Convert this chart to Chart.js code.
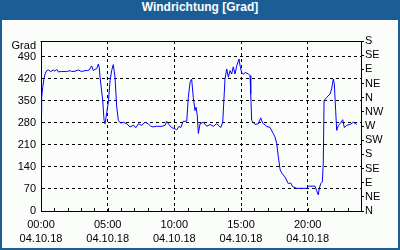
<!DOCTYPE html>
<html>
<head>
<meta charset="utf-8">
<script src="https://cdn.jsdelivr.net/npm/chart.js@4/dist/chart.umd.min.js"></script>
<style>
  html, body { margin: 0; padding: 0; background: #1b5e95; }
  #frame { position: relative; width: 400px; height: 250px; background: #1b5e95; overflow: hidden; }
  #title { position: absolute; left: 0; top: 0; width: 400px; height: 20px; line-height: 20px;
           text-align: center; color: #ffffff; font: bold 12px "Liberation Sans", Arial, sans-serif; }
  #panel { position: absolute; left: 2px; top: 20px; width: 396px; height: 228px; background: #fbfdfb; }
  canvas { display: block; }
</style>
</head>
<body>
<div id="frame">
  <div id="title">Windrichtung [Grad]</div>
  <div id="panel"><canvas id="c" width="396" height="228"></canvas></div>
</div>
<script>
// ---- data (hours since 00:00 on 04.10.18, wind direction in degrees) ----
const hours = [
  0.00, 0.05, 0.13, 0.22, 0.30, 0.43, 0.55, 0.73, 0.92, 1.05, 1.18, 1.30, 1.55, 1.93, 2.18, 2.30,
  2.55, 2.80, 3.05, 3.30, 3.47, 3.62, 3.80, 3.92, 4.05, 4.18, 4.30, 4.37, 4.43, 4.63, 4.73, 4.80,
  4.88, 5.05, 5.18, 5.30, 5.42, 5.55, 5.68, 5.80, 5.98, 6.17, 6.43, 6.68, 6.92, 7.13, 7.30, 7.55,
  7.80, 8.05, 8.23, 8.42, 8.68, 9.05, 9.30, 9.43, 9.55, 9.80, 10.05, 10.18, 10.35, 10.48, 10.67, 10.93,
  11.05, 11.18, 11.30, 11.42, 11.55, 11.63, 11.72, 11.80, 11.93, 12.17, 12.43, 12.68, 12.92, 13.18, 13.48, 13.63,
  13.80, 13.93, 14.05, 14.18, 14.30, 14.42, 14.55, 14.68, 14.85, 14.93, 15.05, 15.17, 15.35, 15.55, 15.68, 15.73,
  15.80, 16.05, 16.30, 16.48, 16.63, 16.93, 17.18, 17.42, 17.55, 17.68, 17.80, 17.93, 18.05, 18.30, 18.55, 18.73,
  18.88, 19.18, 19.93, 20.05, 20.55, 20.68, 20.80, 20.87, 20.98, 21.10, 21.17, 21.23, 21.43, 21.68, 21.80, 21.92,
  22.00, 22.10, 22.18, 22.30, 22.43, 22.63, 22.75, 22.93, 23.18, 23.43, 23.68
];
const directions = [
  310, 361, 393, 419, 435, 446, 448, 443, 448, 444, 450, 442, 443, 443, 446, 443,
  444, 448, 443, 446, 446, 448, 461, 446, 450, 452, 467, 456, 425, 351, 288, 277,
  298, 346, 414, 446, 465, 425, 330, 288, 279, 282, 277, 267, 272, 265, 277, 272,
  282, 277, 269, 267, 269, 269, 272, 285, 277, 265, 261, 258, 269, 265, 285, 285,
  361, 409, 419, 361, 319, 330, 304, 246, 277, 282, 269, 275, 269, 277, 265, 282,
  419, 451, 425, 446, 435, 458, 435, 461, 483, 461, 440, 435, 440, 435, 430, 372,
  288, 275, 277, 296, 279, 269, 265, 246, 235, 214, 172, 132, 121, 108, 87, 89,
  77, 72, 72, 79, 79, 64, 51, 72, 87, 93, 151, 351, 361, 372, 388, 419,
  404, 319, 256, 272, 277, 290, 265, 272, 275, 282, 275
];

// ---- axes / tick labels ----
const xTickHours = [0, 5, 10, 15, 20];
const xTickTimes = ['00:00', '05:00', '10:00', '15:00', '20:00'];
const xTickDate = '04.10.18';
const xMinorHours = [1,2,3,4,5,6,7,8,9,10,11,12,13,14,15,16,17,18,19,20,21,22,23];
const yTicks = [0, 70, 140, 210, 280, 350, 420, 490];
const yUnit = 'Grad';
const compassValues = [0, 45, 90, 135, 180, 225, 270, 315, 360, 405, 450, 495, 540];
const compassLabels = ['N', 'NE', 'E', 'SE', 'S', 'SW', 'W', 'NW', 'N', 'NE', 'E', 'SE', 'S'];

const FONT = { family: '"Liberation Sans", Arial, sans-serif', size: 11 };

const extras = {
  id: 'extras',
  afterDraw(chart) {
    const ctx = chart.ctx, a = chart.chartArea, xs = chart.scales.x;
    ctx.save();
    ctx.strokeStyle = '#000';
    ctx.lineWidth = 1;
    ctx.setLineDash([]);
    // top border line of the plot frame
    ctx.beginPath();
    ctx.moveTo(Math.round(a.left) - 0.5, Math.round(a.top) + 0.5);
    ctx.lineTo(Math.round(a.right) + 0.5, Math.round(a.top) + 0.5);
    ctx.stroke();
    // hourly minor ticks pointing into the plot
    ctx.beginPath();
    xMinorHours.forEach(h => {
      const px = Math.round(xs.getPixelForValue(h)) + 0.5;
      ctx.moveTo(px, a.bottom);
      ctx.lineTo(px, a.bottom - 3);
    });
    ctx.stroke();
    // unit label above the left tick labels
    ctx.fillStyle = '#000';
    ctx.font = FONT.size + 'px ' + FONT.family;
    ctx.textAlign = 'right';
    ctx.textBaseline = 'middle';
    ctx.fillText(yUnit, a.left - 5, a.top + 5);
    ctx.restore();
  }
};

new Chart(document.getElementById('c'), {
  type: 'line',
  data: {
    datasets: [{
      data: hours.map((h, i) => ({ x: h, y: directions[i] })),
      borderColor: '#0000ff',
      borderWidth: 1,
      pointRadius: 0,
      tension: 0,
      fill: false
    }]
  },
  options: {
    responsive: false,
    animation: false,
    devicePixelRatio: 1,
    layout: { padding: { top: 21, left: 0, right: 0, bottom: 0 } },
    plugins: { legend: { display: false }, tooltip: { enabled: false }, title: { display: false } },
    scales: {
      x: {
        type: 'linear', min: 0, max: 24,
        afterBuildTicks: s => { s.ticks = xTickHours.map(v => ({ value: v })); },
        afterFit: s => { s.height = 37; },
        ticks: {
          color: '#000', font: { ...FONT, lineHeight: 1.27 }, padding: 7, maxRotation: 0, autoSkip: false,
          callback: v => [xTickTimes[xTickHours.indexOf(v)], xTickDate]
        },
        grid: {
          drawTicks: false,
          color: c => (c.tick && c.tick.value === 0) ? 'rgba(0,0,0,0)' : '#000',
          lineWidth: 1
        },
        border: { display: true, color: '#000', dash: [3, 3], width: 1 }
      },
      y: {
        position: 'left', min: 0, max: 540,
        afterBuildTicks: s => { s.ticks = yTicks.map(v => ({ value: v })); },
        afterFit: s => { s.width = 39; },
        ticks: { color: '#000', font: FONT, padding: 5, autoSkip: false },
        grid: {
          drawTicks: false,
          color: c => (c.tick && c.tick.value === 0) ? 'rgba(0,0,0,0)' : '#000',
          lineWidth: 1
        },
        border: { display: true, color: '#000', dash: [3, 3], width: 1 }
      },
      y2: {
        position: 'right', min: 0, max: 540,
        afterBuildTicks: s => { s.ticks = compassValues.map(v => ({ value: v })); },
        afterFit: s => { s.width = 37; },
        ticks: {
          color: '#000', font: FONT, padding: 1, autoSkip: false,
          callback: v => compassLabels[compassValues.indexOf(v)]
        },
        grid: { drawOnChartArea: false, drawTicks: true, tickLength: 3, tickColor: '#000' },
        border: { display: true, color: '#000', width: 1 }
      }
    }
  },
  plugins: [extras]
});
</script>
</body>
</html>
